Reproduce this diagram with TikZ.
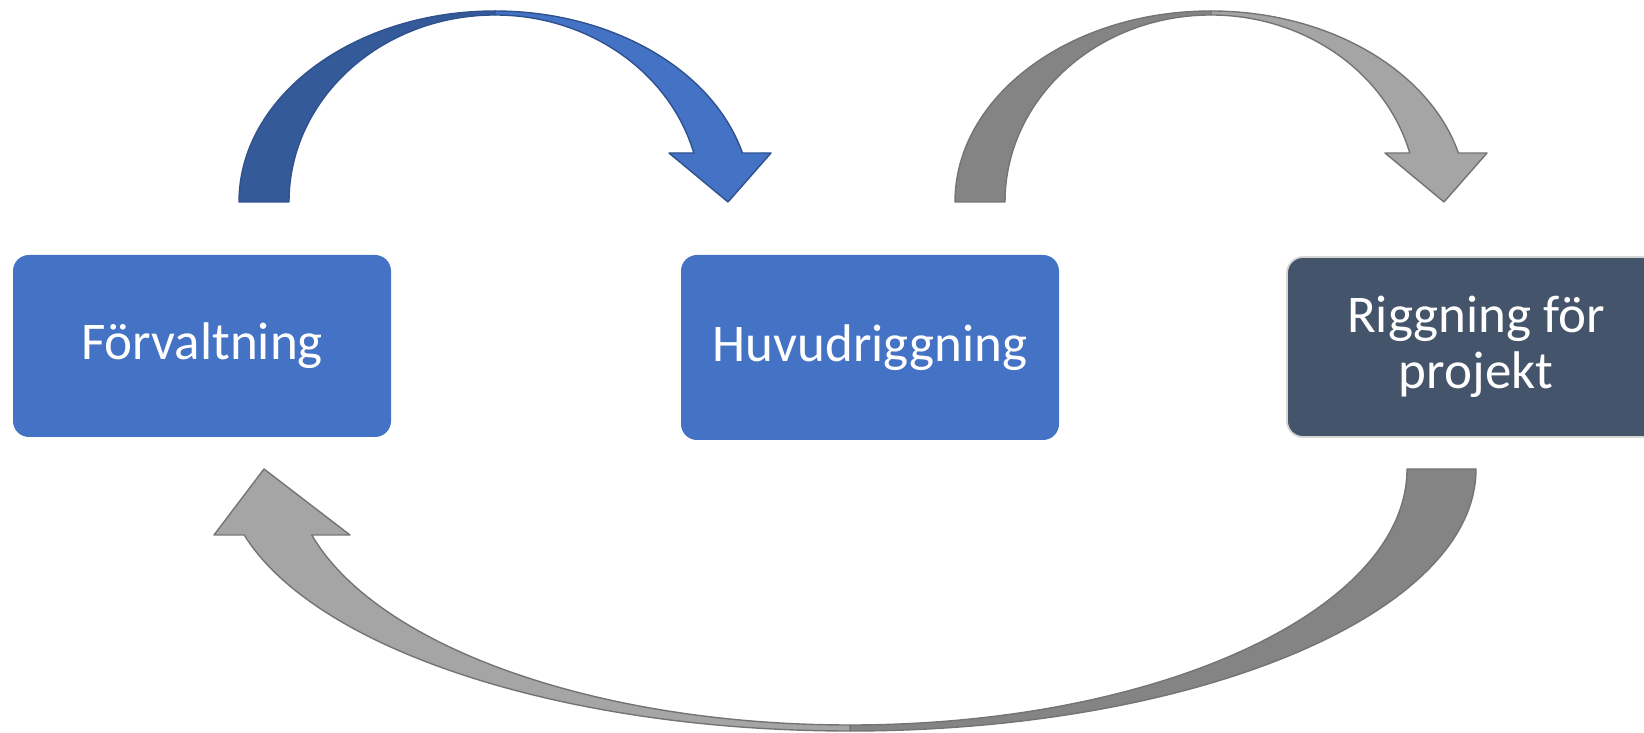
\documentclass[tikz,border=0pt]{standalone}
\usepackage{fontspec}
\setmainfont{Carlito}
\definecolor{boxblue}{HTML}{4472C4}
\definecolor{boxslate}{HTML}{44546A}
\definecolor{slateedge}{HTML}{D6D6D6}
\definecolor{bluedark}{HTML}{355A9A}
\definecolor{bluelight}{HTML}{4472C4}
\definecolor{blueline}{HTML}{2F528F}
\definecolor{graydark}{HTML}{848484}
\definecolor{graylight}{HTML}{A5A5A5}
\definecolor{grayline}{HTML}{747474}
\begin{document}
\begin{tikzpicture}[x=1pt,y=1pt,
  stepbox/.style={rounded corners=16pt, minimum width=378pt, inner sep=0pt,
    text=white, font=\fontsize{53}{56}\selectfont, align=center},
  bandblue/.style={draw=blueline, line width=1.4pt, line join=round},
  bandgray/.style={draw=grayline, line width=1.4pt, line join=round}]
\useasboundingbox (0,0) rectangle (1644,733);

% top blue curved arrow
\begin{scope}[shift={(495,531)}]
  \coordinate (bluecenter) at (0,0);
  \filldraw[bandblue, fill=bluedark]
    (-256,0) arc[start angle=180, end angle=90, x radius=256, y radius=191]
    -- (0,187) arc[start angle=90, end angle=180, x radius=206, y radius=187] -- cycle;
  \filldraw[bandblue, fill=bluelight]
    (0,191) arc[start angle=90, end angle=14.86, x radius=256, y radius=191]
    -- (276,49) -- (233,0) -- (174,49) -- (198.8,49)
    arc[start angle=15.19, end angle=90, x radius=206, y radius=187] -- cycle;
\end{scope}

% top gray curved arrow
\begin{scope}[shift={(1211,531)}]
  \coordinate (graycenter) at (0,0);
  \filldraw[bandgray, fill=graydark]
    (-256,0) arc[start angle=180, end angle=90, x radius=256, y radius=191]
    -- (0,187) arc[start angle=90, end angle=180, x radius=206, y radius=187] -- cycle;
  \filldraw[bandgray, fill=graylight]
    (0,191) arc[start angle=90, end angle=14.86, x radius=256, y radius=191]
    -- (276,49) -- (233,0) -- (174,49) -- (198.8,49)
    arc[start angle=15.19, end angle=90, x radius=206, y radius=187] -- cycle;
\end{scope}

% bottom gray curved arrow
\begin{scope}[shift={(850,264)}]
  \coordinate (bottomcenter) at (0,0);
  \filldraw[bandgray, fill=graydark]
    (626,0) arc[start angle=0, end angle=-90, x radius=626, y radius=262]
    -- (0,-256) arc[start angle=-90, end angle=0, x radius=557, y radius=256] -- cycle;
  \filldraw[bandgray, fill=graylight]
    (0,-262) arc[start angle=-90, end angle=-165.41, x radius=626, y radius=262]
    -- (-636,-66) -- (-586,0) -- (-500,-66) -- (-538.2,-66)
    arc[start angle=-165.06, end angle=-90, x radius=557, y radius=256] -- cycle;
\end{scope}

% boxes
\node[stepbox, fill=boxblue, minimum height=182pt] (forv) at (202,387) {Förvaltning};
\node[stepbox, fill=boxblue, minimum height=185pt] (huvud) at (870,385.5) {Huvudriggning};
\node[stepbox, fill=boxslate, draw=slateedge, line width=1.8pt, minimum height=180pt] (rigg) at (1476,386) {Riggning för\\projekt};
\end{tikzpicture}
\end{document}
